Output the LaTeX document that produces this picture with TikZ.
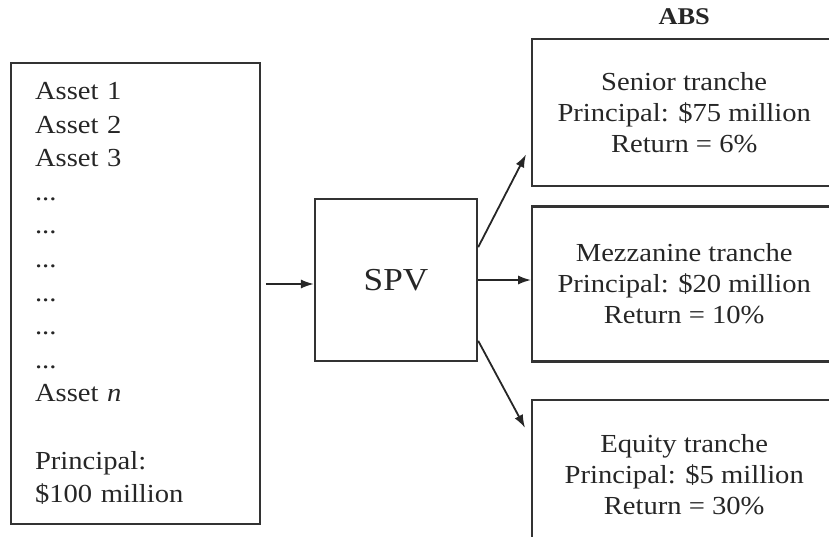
\documentclass[tikz,border=0pt]{standalone}
\usepackage{fontspec}
\setmainfont{Liberation Serif}[FakeStretch=1.1]
\usetikzlibrary{arrows.meta}
\usetikzlibrary{calc,positioning}

\begin{document}
\begin{tikzpicture}[x=0.5pt,y=-0.5pt]
            \tikzstyle{box}=[draw=black!80,line width=1.2pt,inner sep=0pt,text=black!85]
            \tikzstyle{tranche}=[box,minimum width=152pt,align=center,font=\fontsize{13}{15.5}\selectfont]
            \tikzstyle{flow}=[draw=black!85,line width=0.9pt,-{Latex[length=6.5pt,width=4.6pt]}]

            \useasboundingbox (0,0) rectangle (829,536);
            \clip (0,0) rectangle (829,536);

            \node[box,minimum width=124.5pt,minimum height=230.5pt,text width=100.5pt,align=left,
                  font=\fontsize{13}{16.8}\selectfont] (pool) at (135.5,293.5)
                {Asset 1\\Asset 2\\Asset 3\\...\\...\\...\\...\\...\\...\\Asset \textit{n}\\[16.8pt]Principal:\\\$100 million};
            \node[box,minimum width=81pt,minimum height=81pt,font=\fontsize{16}{19}\selectfont] (spv) at (396,280) {SPV};

            \node[tranche,minimum height=73.5pt,anchor=north west] (senior) at (531,38)
                {Senior tranche\\Principal: \$75 million\\Return = 6\%};
            \node[tranche,minimum height=77.5pt,below=9pt of senior.south west,anchor=north west] (mezz)
                {Mezzanine tranche\\Principal: \$20 million\\Return = 10\%};
            \node[tranche,minimum height=75pt,below=18pt of mezz.south west,anchor=north west] (equity)
                {Equity tranche\\Principal: \$5 million\\Return = 30\%};
            \node[above=3pt of senior,font=\bfseries\fontsize{12}{14}\selectfont,text=black!85] (abs) {ABS};

            \coordinate (feed) at ($(spv.west)+(-48,4)$);
            \coordinate (up) at ($(senior.south west)+(-5,-33)$);
            \coordinate (down) at ($(equity.north west)+(-6,29)$);

            \draw[flow] (feed) -- (feed -| spv.west);
            \draw[flow] ($(spv.north east)!0.3!(spv.south east)$) -- (up);
            \draw[flow] (spv.east) -- (spv.east -| mezz.west);
            \draw[flow] ($(spv.north east)!0.87!(spv.south east)$) -- (down);
        \end{tikzpicture}
\end{document}
